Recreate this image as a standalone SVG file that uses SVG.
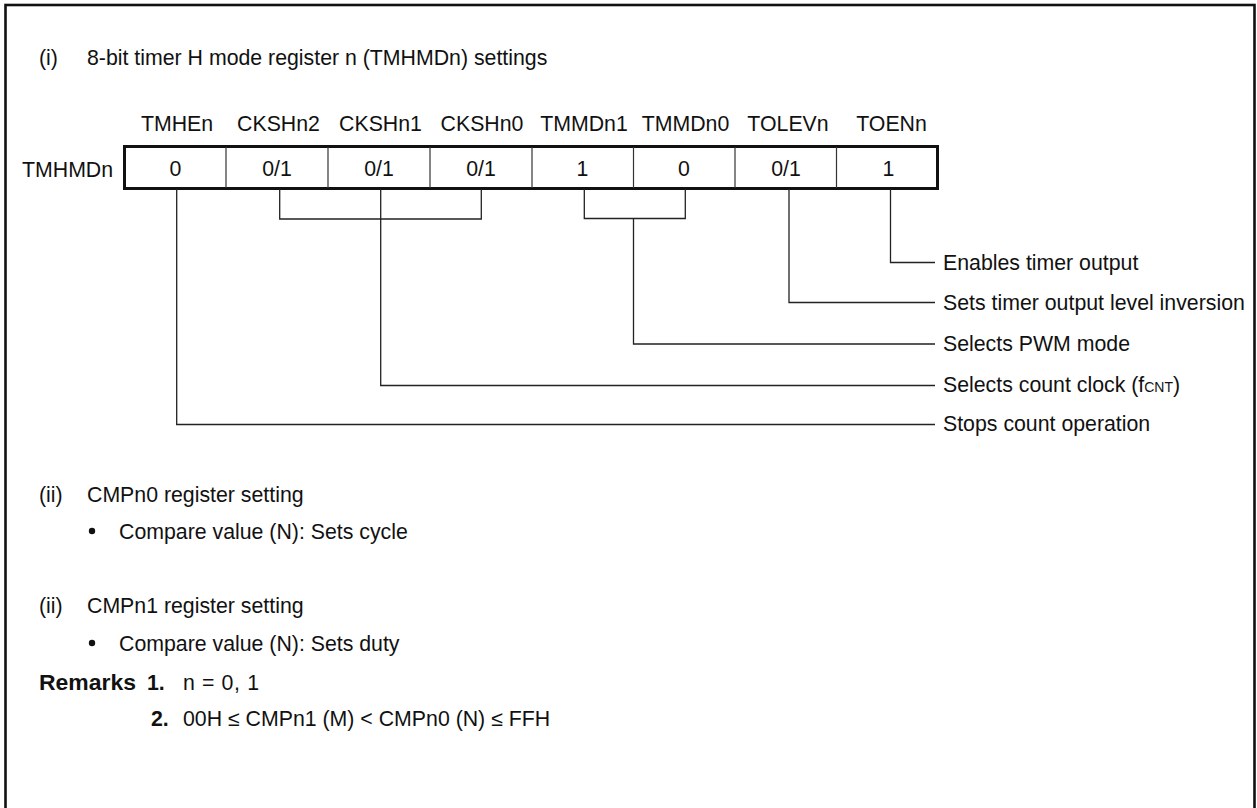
<svg xmlns="http://www.w3.org/2000/svg" width="1257" height="808" viewBox="0 0 1257 808">
<style>
text{font-family:"Liberation Sans",Arial,sans-serif;font-size:21.3px;fill:#111}
.c{text-anchor:middle}
.b{font-weight:bold}
.sm{font-size:14px}
.ln{fill:none;stroke:#222;stroke-width:1.3}
.div{stroke:#333;stroke-width:1.2}
</style>
<rect x="5.5" y="5" width="1249" height="830" fill="#fff" stroke="#111" stroke-width="2.6"/>
<text x="39" y="65">(i)</text>
<text x="87" y="65">8-bit timer H mode register n (TMHMDn) settings</text>

<g id="register">
<text x="22" y="177">TMHMDn</text>
<g id="bitlabels">
<text class="c" x="177" y="131">TMHEn</text>
<text class="c" x="278.5" y="131">CKSHn2</text>
<text class="c" x="380.5" y="131">CKSHn1</text>
<text class="c" x="482" y="131">CKSHn0</text>
<text class="c" x="584" y="131">TMMDn1</text>
<text class="c" x="685.5" y="131">TMMDn0</text>
<text class="c" x="788" y="131">TOLEVn</text>
<text class="c" x="891.5" y="131">TOENn</text>
</g>
<rect x="124.5" y="146.5" width="813" height="42" fill="#fff" stroke="#111" stroke-width="3"/>
<g class="div">
<line x1="226" y1="147" x2="226" y2="188"/>
<line x1="328" y1="147" x2="328" y2="188"/>
<line x1="430" y1="147" x2="430" y2="188"/>
<line x1="532" y1="147" x2="532" y2="188"/>
<line x1="633.5" y1="147" x2="633.5" y2="188"/>
<line x1="735" y1="147" x2="735" y2="188"/>
<line x1="836.5" y1="147" x2="836.5" y2="188"/>
</g>
<g id="values">
<text class="c" x="175.5" y="176">0</text>
<text class="c" x="277" y="176">0/1</text>
<text class="c" x="379" y="176">0/1</text>
<text class="c" x="481" y="176">0/1</text>
<text class="c" x="582.5" y="176">1</text>
<text class="c" x="684" y="176">0</text>
<text class="c" x="786" y="176">0/1</text>
<text class="c" x="888.5" y="176">1</text>
</g>
</g>

<g id="connectors">
<polyline class="ln" points="176.7,189 176.7,424.5 935,424.5"/>
<polyline class="ln" points="279.7,189 279.7,219 481.3,219 481.3,189"/>
<polyline class="ln" points="380.7,189 380.7,385.5 935,385.5"/>
<polyline class="ln" points="584.3,189 584.3,218.5 685.3,218.5 685.3,189"/>
<polyline class="ln" points="633.5,218.5 633.5,344 935,344"/>
<polyline class="ln" points="789,189 789,302.5 935,302.5"/>
<polyline class="ln" points="890.5,189 890.5,262.5 935,262.5"/>
</g>

<g id="descriptions">
<text x="943" y="270">Enables timer output</text>
<text x="943" y="310">Sets timer output level inversion</text>
<text x="943" y="351">Selects PWM mode</text>
<text x="943" y="392">Selects count clock (f<tspan class="sm">CNT</tspan>)</text>
<text x="943" y="431">Stops count operation</text>
</g>

<g id="cmp0">
<text x="39" y="502">(ii)</text>
<text x="87" y="502">CMPn0 register setting</text>
<circle cx="92" cy="531" r="3.2" fill="#111"/>
<text x="119" y="539">Compare value (N): Sets cycle</text>
</g>

<g id="cmp1">
<text x="39" y="613">(ii)</text>
<text x="87" y="613">CMPn1 register setting</text>
<circle cx="92" cy="643" r="3.2" fill="#111"/>
<text x="119" y="651">Compare value (N): Sets duty</text>
</g>

<g id="remarks">
<text class="b" x="39" y="690" textLength="97" lengthAdjust="spacingAndGlyphs">Remarks</text>
<text class="b" x="147" y="690">1.</text>
<text x="183" y="690" textLength="76">n = 0, 1</text>
<text class="b" x="151" y="726">2.</text>
<text x="183" y="726">00H ≤ CMPn1 (M) &lt; CMPn0 (N) ≤ FFH</text>
</g>
</svg>
